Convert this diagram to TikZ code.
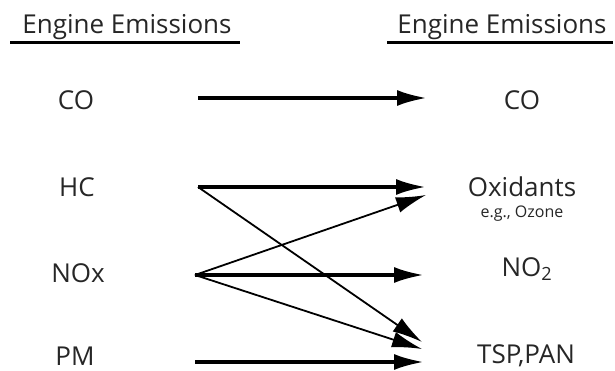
\documentclass[tikz,border=0pt]{standalone}
\usepackage{fontspec}
\setmainfont{Open Sans}
\usetikzlibrary{arrows.meta,positioning}

\tikzset{
  lab/.style={inner sep=0pt, anchor=base, text=black!85, font=\fontsize{26}{28}\selectfont},
  fat/.style={line width=3.6pt, -{Latex[length=30pt,width=16pt]}},
  thin/.style={line width=1.8pt, -{Latex[length=30pt,width=16pt]}}
}

\begin{document}
\begin{tikzpicture}[x=1pt,y=-1pt]
\useasboundingbox (0,0) rectangle (615,371);
% titles
\node[lab] (TL) at (127,34) {Engine Emissions};
\node[lab] (TR) at (502,34) {Engine Emissions};
\draw[line width=3pt] (10,43) -- (240,43);
\draw[line width=3pt] (387,43) -- (613,43);
% left side
\node[lab] (COl) at (76,110) {CO};
\node[lab] (HCl) at (77,197) {HC};
\node[lab] (NOl) at (78,282) {NOx};
\node[lab] (PMl) at (75,365) {PM};
% right side
\node[lab] (COr) at (522,110) {CO};
\node[lab] (OXr) at (522,197) {Oxidants};
\node[inner sep=0pt, anchor=base, text=black!85, font=\fontsize{16}{17}\selectfont] (OZ) at (522,218) {e.g., Ozone};
\node[lab] (NOr) at (527,276) {NO\textsubscript{2}};
\node[lab] (TSr) at (526,363) {TSP,PAN};
% arrow ends
\coordinate (COa) at (198,98);
\coordinate (COb) at (427,98);
\coordinate (HCa) at (198,187);
\coordinate (OXb) at (426,187);
\coordinate (OXc) at (426,195);
\coordinate (NOa) at (195,275);
\coordinate (NOb) at (424,275);
\coordinate (TSb) at (422,342);
\coordinate (TSc) at (422,349);
\coordinate (PMa) at (195,362);
\coordinate (PMb) at (424,362);
\draw[fat] (COa) -- (COb);
\draw[fat] (HCa) -- (OXb);
\draw[thin] (HCa) -- (TSb);
\draw[thin] (NOa) -- (OXc);
\draw[fat] (NOa) -- (NOb);
\draw[thin] (NOa) -- (TSc);
\draw[fat] (PMa) -- (PMb);
\end{tikzpicture}
\end{document}
